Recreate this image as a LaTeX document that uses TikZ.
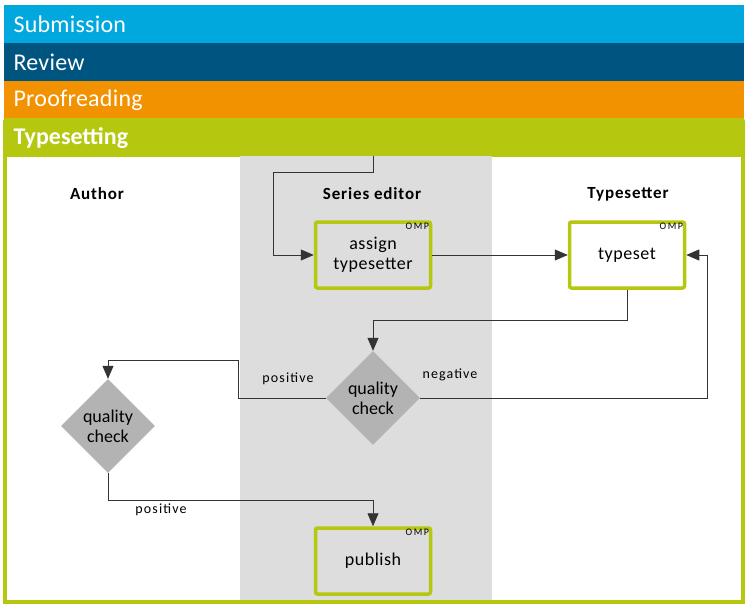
\documentclass[tikz,border=0pt]{standalone}
\usepackage{fontspec}
\setmainfont{Carlito}
\usetikzlibrary{arrows.meta,positioning,shapes.geometric}
\definecolor{subblue}{RGB}{0,168,222}
\definecolor{revblue}{RGB}{0,85,128}
\definecolor{proforange}{RGB}{243,146,0}
\definecolor{typegreen}{RGB}{181,200,15}
\definecolor{lanegray}{RGB}{221,221,221}
\definecolor{decgray}{RGB}{179,179,179}

\begin{document}
\begin{tikzpicture}[
  x=1pt,y=-1pt,
  every node/.style={font=\fontsize{18}{20}\selectfont\addfontfeature{LetterSpace=3}},
  bartext/.style={anchor=west, text=white, font=\fontsize{24}{26}\selectfont\addfontfeature{LetterSpace=1}},
  lane/.style={font=\fontsize{17}{19}\selectfont\bfseries\addfontfeature{LetterSpace=5}},
  task/.style={draw=typegreen, line width=3.5pt, rounded corners=2pt, align=center, minimum width=115, minimum height=66, inner sep=2pt},
  decision/.style={diamond, fill=decgray, align=center, minimum width=94, minimum height=94, inner sep=0pt,
    font=\fontsize{18}{20}\selectfont},
  omp/.style={anchor=north east, inner sep=3pt, font=\fontsize{10}{11}\selectfont\addfontfeature{LetterSpace=15}},
  edgelabel/.style={font=\fontsize{14}{16}\selectfont\addfontfeature{LetterSpace=8}},
  arr/.style={-{Triangle[length=13pt,width=11pt]}, line width=0.8pt, draw=black!80}
]
\useasboundingbox (0,0) rectangle (751,612);

% phase bars
\fill[subblue] (4,5) rectangle (744,43);
\fill[revblue] (4,43) rectangle (744,81);
\fill[proforange] (4,81) rectangle (744,119);
\node[bartext] (subm) at (10,24) {Submission};
\node[bartext] (rev) at (10,62) {Review};
\node[bartext] (proof) at (10,100) {Proofreading};

% typesetting phase
\fill[typegreen, rounded corners=3pt] (3,118) rectangle (745,157);
\draw[typegreen, line width=4pt] (5,150) rectangle (743,602);
\fill[lanegray] (240,156) rectangle (492,600);
\node[bartext, font=\fontsize{24}{26}\selectfont\bfseries] (types) at (10,138) {Typesetting};

% lanes
\node[lane] (author) at (97,194) {Author};
\node[lane] (editor) at (372,194) {Series editor};
\node[lane] (setter) at (628,194) {Typesetter};

% tasks
\node[task] (assign) at (373,255) {assign\\typesetter};
\node[task, fill=white] (typeset) at (627,255) {typeset};
\node[task] (publish) at (373,561) {publish};
\foreach \t in {assign,typeset,publish}
  \node[omp] (omp-\t) at (\t.north east) {OMP};

% decisions
\node[decision] (qcedit) at (373,398) {quality\\check};
\node[decision] (qcauth) at (108,426) {quality\\check};

% flow
\coordinate (entry) at (373,156);
\draw[arr] (entry) -- ++(0,16) -- ++(-100,0) |- (assign.west);
\draw[arr] (assign) -- (typeset);
\draw[arr] (typeset.south) -- ++(0,31) -| (qcedit.north);
\draw[arr] (qcedit.west) -- ++(-87,0) -- ++(0,-38) -| (qcauth.north);
\draw[arr] (qcedit.east) -- ++(287,0) |- (typeset.east);
\draw[arr] (qcauth.south) -- ++(0,27) -| (publish.north);

\node[edgelabel] (pos1) at (288,379) {positive};
\node[edgelabel] (neg) at (450,375) {negative};
\node[edgelabel] (pos2) at (161,510) {positive};
\end{tikzpicture}
\end{document}
